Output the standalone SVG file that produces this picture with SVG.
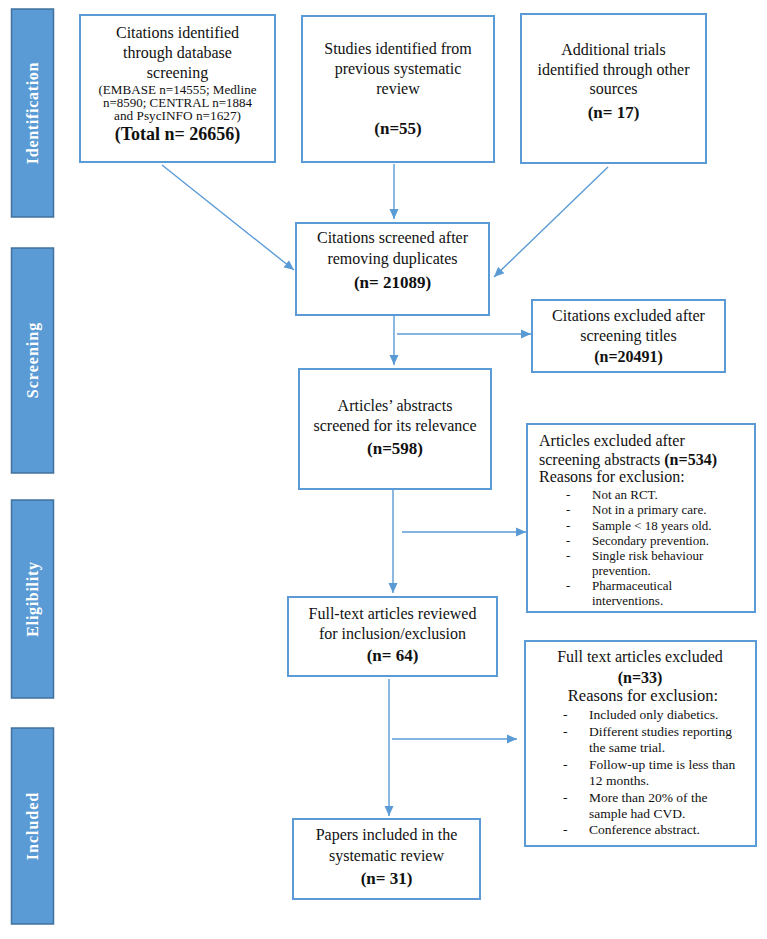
<svg xmlns="http://www.w3.org/2000/svg" width="767" height="939" viewBox="0 0 767 939">
<style>
.bg{fill:#ffffff}
.bar{fill:#5b9bd5;stroke:#41719c;stroke-width:1.5}
.bartxt{font-family:"Liberation Serif","Times New Roman",serif;font-size:16px;font-weight:bold;fill:#ffffff;letter-spacing:0.7px;text-anchor:middle;dominant-baseline:central}
.box{fill:#ffffff;stroke:#5b9bd5;stroke-width:2}
.t{font-family:"Liberation Serif","Times New Roman",serif;font-size:16px;fill:#111111;text-anchor:middle}
.s{font-size:11.5px}
.b{font-weight:bold;font-size:17px}
.l{text-anchor:start}
.i{font-size:13px;text-anchor:start}
.conn line{stroke:#5b9bd5;stroke-width:1.4;fill:none}
</style>
<defs>
<marker id="arr" markerUnits="userSpaceOnUse" markerWidth="10" markerHeight="10" viewBox="0 0 10 10" refX="10" refY="5" orient="auto">
<path d="M0,0.5 L10,5 L0,9.5 Z" fill="#5b9bd5"/>
</marker>
</defs>
<rect class="bg" x="0" y="0" width="767" height="939"/>

<g id="phase-identification">
<rect class="bar" x="11.5" y="9" width="42" height="208"/>
<text class="bartxt" transform="translate(32.5,113) rotate(-90)">Identification</text>
</g>
<g id="phase-screening">
<rect class="bar" x="11.5" y="248" width="42" height="225"/>
<text class="bartxt" transform="translate(32.5,360) rotate(-90)" style="letter-spacing:1px">Screening</text>
</g>
<g id="phase-eligibility">
<rect class="bar" x="11.5" y="500" width="42" height="198"/>
<text class="bartxt" transform="translate(32.5,599) rotate(-90)">Eligibility</text>
</g>
<g id="phase-included">
<rect class="bar" x="11.5" y="728" width="42" height="196"/>
<text class="bartxt" transform="translate(32.5,826) rotate(-90)" style="letter-spacing:1px">Included</text>
</g>

<g id="connectors" class="conn">
<line x1="162" y1="165" x2="294" y2="270" marker-end="url(#arr)"/>
<line x1="394" y1="164" x2="394" y2="219" marker-end="url(#arr)"/>
<line x1="608" y1="167" x2="494" y2="277" marker-end="url(#arr)"/>
<line x1="394" y1="316" x2="394" y2="365" marker-end="url(#arr)"/>
<line x1="397" y1="334" x2="531" y2="334" marker-end="url(#arr)"/>
<line x1="393" y1="490" x2="393" y2="593" marker-end="url(#arr)"/>
<line x1="402" y1="532" x2="526" y2="532" marker-end="url(#arr)"/>
<line x1="389" y1="679" x2="389" y2="816" marker-end="url(#arr)"/>
<line x1="392" y1="739" x2="517" y2="739" marker-end="url(#arr)"/>
</g>

<g id="node-database">
<rect class="box" x="80" y="15" width="195" height="147"/>
<text class="t" x="177.5" y="38">Citations identified</text>
<text class="t" x="177.5" y="58">through database</text>
<text class="t" x="177.5" y="78">screening</text>
<text class="t s" x="177.5" y="94" textLength="158" lengthAdjust="spacingAndGlyphs">(EMBASE n=14555; Medline</text>
<text class="t s" x="177.5" y="107" textLength="149" lengthAdjust="spacingAndGlyphs">n=8590; CENTRAL n=1884</text>
<text class="t s" x="177.5" y="120" textLength="127" lengthAdjust="spacingAndGlyphs">and PsycINFO n=1627)</text>
<text class="t b" x="177.5" y="140" style="font-size:18px">(Total n= 26656)</text>
</g>

<g id="node-previous-review">
<rect class="box" x="302" y="16" width="192" height="146"/>
<text class="t" x="398" y="54">Studies identified from</text>
<text class="t" x="398" y="74">previous systematic</text>
<text class="t" x="398" y="94">review</text>
<text class="t b" x="398" y="134">(n=55)</text>
</g>

<g id="node-other-sources">
<rect class="box" x="521" y="14" width="185" height="149"/>
<text class="t" x="613.5" y="55">Additional trials</text>
<text class="t" x="613.5" y="75">identified through other</text>
<text class="t" x="613.5" y="94">sources</text>
<text class="t b" x="613.5" y="118">(n= 17)</text>
</g>

<g id="node-screened">
<rect class="box" x="296" y="223" width="193" height="92"/>
<text class="t" x="392.5" y="243">Citations screened after</text>
<text class="t" x="392.5" y="264">removing duplicates</text>
<text class="t b" x="392.5" y="288">(n= 21089)</text>
</g>

<g id="node-excluded-titles">
<rect class="box" x="532" y="300" width="193" height="72"/>
<text class="t" x="628.5" y="321">Citations excluded after</text>
<text class="t" x="628.5" y="341">screening titles</text>
<text class="t b" x="628.5" y="362" style="font-size:16px">(n=20491)</text>
</g>

<g id="node-abstracts">
<rect class="box" x="299" y="369" width="192" height="120"/>
<text class="t" x="395" y="411">Articles’ abstracts</text>
<text class="t" x="395" y="431">screened for its relevance</text>
<text class="t b" x="395" y="454">(n=598)</text>
</g>

<g id="node-excluded-abstracts">
<rect class="box" x="527" y="424" width="228" height="188"/>
<text class="t l" x="539" y="446">Articles excluded after</text>
<text class="t l" x="539" y="465">screening abstracts <tspan font-weight="bold">(n=534)</tspan></text>
<text class="t l" x="539" y="482">Reasons for exclusion:</text>
<text class="t i" x="566" y="499">-</text><text class="t i" x="592" y="499">Not an RCT.</text>
<text class="t i" x="566" y="514">-</text><text class="t i" x="592" y="514">Not in a primary care.</text>
<text class="t i" x="566" y="530">-</text><text class="t i" x="592" y="530">Sample &lt; 18 years old.</text>
<text class="t i" x="566" y="545">-</text><text class="t i" x="592" y="545">Secondary prevention.</text>
<text class="t i" x="566" y="560">-</text><text class="t i" x="592" y="560">Single risk behaviour</text>
<text class="t i" x="592" y="575">prevention.</text>
<text class="t i" x="566" y="590">-</text><text class="t i" x="592" y="590">Pharmaceutical</text>
<text class="t i" x="592" y="605">interventions.</text>
</g>

<g id="node-fulltext">
<rect class="box" x="288" y="597" width="209" height="79"/>
<text class="t" x="392.5" y="619">Full-text articles reviewed</text>
<text class="t" x="392.5" y="639">for inclusion/exclusion</text>
<text class="t b" x="392.5" y="661">(n= 64)</text>
</g>

<g id="node-excluded-fulltext">
<rect class="box" x="525" y="641" width="231" height="205"/>
<text class="t" x="640" y="662">Full text articles excluded</text>
<text class="t b" x="640" y="683" style="font-size:16px">(n=33)</text>
<text class="t" x="643" y="701" style="font-size:16.5px">Reasons for exclusion:</text>
<text class="t i" x="563" y="719" style="font-size:13.5px">-</text><text class="t i" x="589" y="719" style="font-size:13.5px">Included only diabetics.</text>
<text class="t i" x="563" y="736" style="font-size:13.5px">-</text><text class="t i" x="589" y="736" style="font-size:13.5px">Different studies reporting</text>
<text class="t i" x="589" y="752" style="font-size:13.5px">the same trial.</text>
<text class="t i" x="563" y="769" style="font-size:13.5px">-</text><text class="t i" x="589" y="769" style="font-size:13.5px">Follow-up time is less than</text>
<text class="t i" x="589" y="785" style="font-size:13.5px">12 months.</text>
<text class="t i" x="563" y="802" style="font-size:13.5px">-</text><text class="t i" x="589" y="802" style="font-size:13.5px">More than 20% of the</text>
<text class="t i" x="589" y="818" style="font-size:13.5px">sample had CVD.</text>
<text class="t i" x="563" y="834" style="font-size:13.5px">-</text><text class="t i" x="589" y="834" style="font-size:13.5px">Conference abstract.</text>
</g>

<g id="node-included">
<rect class="box" x="293" y="819" width="187" height="80"/>
<text class="t" x="386.5" y="840">Papers included in the</text>
<text class="t" x="386.5" y="861">systematic review</text>
<text class="t b" x="386.5" y="884">(n= 31)</text>
</g>
</svg>
